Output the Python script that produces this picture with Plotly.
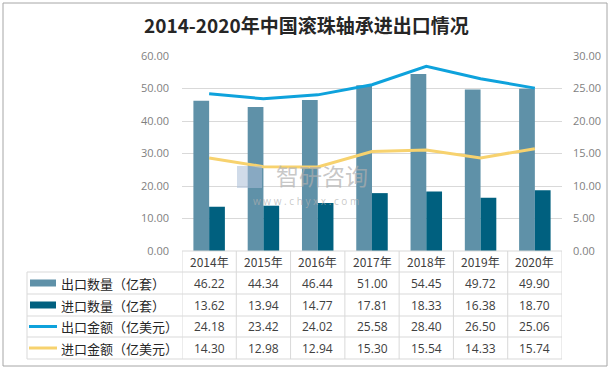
import plotly.graph_objects as go

years = ["2014年", "2015年", "2016年", "2017年", "2018年", "2019年", "2020年"]
export_qty = [46.22, 44.34, 46.44, 51.00, 54.45, 49.72, 49.90]
import_qty = [13.62, 13.94, 14.77, 17.81, 18.33, 16.38, 18.70]
export_val = [24.18, 23.42, 24.02, 25.58, 28.40, 26.50, 25.06]
import_val = [14.30, 12.98, 12.94, 15.30, 15.54, 14.33, 15.74]

series_names = ["出口数量（亿套）", "进口数量（亿套）", "出口金额（亿美元）", "进口金额（亿美元）"]
series_data = [export_qty, import_qty, export_val, import_val]
colors = ["#5f91a8", "#00607f", "#0ea2dc", "#f7d26e"]
title = "2014-2020年中国滚珠轴承进出口情况"

W, H = 613, 370
L, R, T, B = 182, 562, 56, 251
FONT = "Noto Sans CJK SC"


def px(x):
    return (x - L) / (R - L)


def py(y):
    return (B - y) / (B - T)


fig = go.Figure()
fig.add_trace(go.Bar(x=years, y=export_qty, name=series_names[0], marker_color=colors[0],
                     marker_line_width=0))
fig.add_trace(go.Bar(x=years, y=import_qty, name=series_names[1], marker_color=colors[1],
                     marker_line_width=0))
fig.add_trace(go.Scatter(x=years, y=export_val, name=series_names[2], yaxis="y2", mode="lines",
                         line=dict(color=colors[2], width=3)))
fig.add_trace(go.Scatter(x=years, y=import_val, name=series_names[3], yaxis="y2", mode="lines",
                         line=dict(color=colors[3], width=3)))

grid = "#d9d9d9"
shapes = []
# outer border
shapes.append(dict(type="rect", xref="paper", yref="paper", x0=px(3), x1=px(607), y0=py(3), y1=py(366),
                   line=dict(color="#a6a6a6", width=1), fillcolor="rgba(0,0,0,0)", layer="below"))
# table horizontal lines
row_lines = [272, 294, 316, 337, 359]
shapes.append(dict(type="line", xref="paper", yref="paper", x0=0, x1=1, y0=py(251), y1=py(251),
                   line=dict(color=grid, width=1)))
for yl in row_lines:
    shapes.append(dict(type="line", xref="paper", yref="paper", x0=px(27), x1=1, y0=py(yl), y1=py(yl),
                       line=dict(color=grid, width=1)))
# vertical lines
shapes.append(dict(type="line", xref="paper", yref="paper", x0=px(27), x1=px(27), y0=py(272), y1=py(359),
                   line=dict(color=grid, width=1)))
for i in range(len(years) + 1):
    shapes.append(dict(type="line", xref="x", yref="paper", x0=i - 0.5, x1=i - 0.5, y0=py(251), y1=py(359),
                       line=dict(color=grid, width=1)))

annotations = []
# title
annotations.append(dict(text="<b>" + title + "</b>", xref="paper", yref="paper", x=px(306), y=py(25),
                        showarrow=False, font=dict(family=FONT, size=19, color="#262626"),
                        xanchor="center", yanchor="middle"))
# year header
for i, yr in enumerate(years):
    annotations.append(dict(text=yr, xref="x", yref="paper", x=i, y=py(261.5), showarrow=False,
                            font=dict(family=FONT, size=12, color="#404040"),
                            xanchor="center", yanchor="middle"))
# rows
row_centers = [283, 305, 326.5, 348]
for r, (name, data) in enumerate(zip(series_names, series_data)):
    yc = row_centers[r]
    if r < 2:
        shapes.append(dict(type="rect", xref="paper", yref="paper", x0=px(30), x1=px(56),
                           y0=py(yc - 3.5), y1=py(yc + 3.5), line=dict(width=0), fillcolor=colors[r]))
    else:
        shapes.append(dict(type="line", xref="paper", yref="paper", x0=px(29), x1=px(57),
                           y0=py(yc), y1=py(yc), line=dict(color=colors[r], width=3)))
    annotations.append(dict(text=name, xref="paper", yref="paper", x=px(59), y=py(yc), showarrow=False,
                            font=dict(family=FONT, size=13, color="#262626"),
                            xanchor="left", yanchor="middle"))
    for i, v in enumerate(data):
        annotations.append(dict(text=f"{v:.2f}", xref="x", yref="paper", x=i, y=py(yc), showarrow=False,
                                font=dict(family="Open Sans", size=12, color="#404040"),
                                xanchor="center", yanchor="middle"))

# watermark
wm_color = "rgba(175,175,175,0.7)"
annotations.append(dict(text="智研咨询", xref="paper", yref="paper", x=px(322), y=py(175), showarrow=False,
                        font=dict(family=FONT, size=23, color=wm_color),
                        xanchor="center", yanchor="middle"))
annotations.append(dict(text="w w w . c h y x x . c o m", xref="paper", yref="paper", x=px(306), y=py(201),
                        showarrow=False, font=dict(family="Open Sans", size=10, color=wm_color),
                        xanchor="center", yanchor="middle"))
shapes.append(dict(type="rect", xref="paper", yref="paper", x0=px(237), x1=px(262), y0=py(166), y1=py(188),
                   line=dict(width=0), fillcolor="rgba(170,190,215,0.55)"))

fig.update_layout(
    width=W, height=H,
    margin=dict(l=L, r=W - R, t=T, b=H - B),
    paper_bgcolor="white", plot_bgcolor="white",
    barmode="group", bargap=0.42, bargroupgap=0,
    showlegend=False,
    font=dict(family=FONT),
    xaxis=dict(type="category", showticklabels=False, showline=False, ticks="", showgrid=False,
               zeroline=False, range=[-0.5, len(years) - 0.5]),
    yaxis=dict(range=[0, 60], dtick=10, tickformat=".2f", showgrid=True, gridcolor=grid, gridwidth=1,
               zeroline=False, showline=False, ticks="", ticklabelstandoff=12,
               tickfont=dict(family="Open Sans", size=11, color="#7f7f7f")),
    yaxis2=dict(range=[0, 30], dtick=5, tickformat=".2f", overlaying="y", side="right", showgrid=False,
                zeroline=False, showline=False, ticks="", ticklabelstandoff=10,
                tickfont=dict(family="Open Sans", size=11, color="#7f7f7f")),
    shapes=shapes,
    annotations=annotations,
)

fig.write_html("out.html", config={"displayModeBar": False},
               post_script="document.body.style.margin='0px';")
